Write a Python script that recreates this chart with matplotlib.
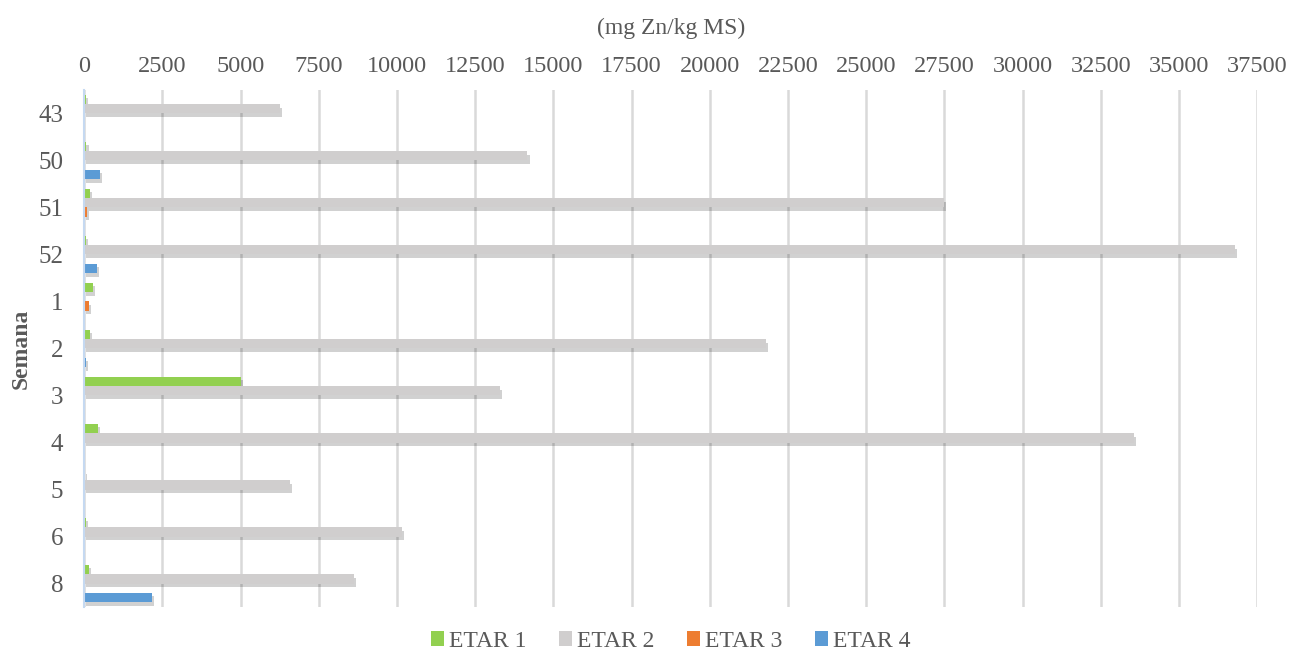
import numpy as np
import matplotlib.pyplot as plt
import matplotlib.patheffects as pe
from matplotlib.patches import Patch

# Zinc content per week (mg Zn/kg MS)
semanas = ['43', '50', '51', '52', '1', '2', '3', '4', '5', '6', '8']
etar1 = [60, 70, 170, 50, 265, 180, 5000, 425, 30, 50, 150]
etar2 = [6250, 14170, 27500, 36800, 0, 21800, 13300, 33570, 6590, 10170, 8630]
etar3 = [0, 0, 100, 0, 150, 0, 0, 0, 0, 0, 0]
etar4 = [0, 490, 0, 395, 0, 50, 0, 0, 0, 0, 2165]

series = [('ETAR 1', etar1, '#92d050'),
          ('ETAR 2', etar2, '#d0cece'),
          ('ETAR 3', etar3, '#ed7d31'),
          ('ETAR 4', etar4, '#5b9bd5')]

plt.rcParams['font.family'] = ['Liberation Serif', 'DejaVu Serif']
txt = '#595959'

fig = plt.figure(figsize=(12.96, 6.52), dpi=100)
ax = fig.add_axes([0.065, 0.069, 0.905, 0.793])

y = np.arange(len(semanas))
h = 0.2
shadow = [pe.SimplePatchShadow(offset=(1.5, -2.5), shadow_rgbFace='#000000', alpha=0.18),
          pe.Normal()]
for k, (name, vals, col) in enumerate(series):
    bars = ax.barh(y + (k - 1.5) * h, vals, height=h, color=col, linewidth=0, zorder=3)
    for b, v in zip(bars, vals):
        if v > 0:
            b.set_path_effects(shadow)
        else:
            b.set_visible(False)

ax.set_ylim(len(semanas) - 0.5, -0.5)
ax.set_xlim(0, 37500)
ax.set_xticks(np.arange(0, 37501, 2500))
ax.xaxis.tick_top()
ax.xaxis.set_label_position('top')
ax.tick_params(axis='x', length=0, pad=9, labelsize=17.5, labelcolor=txt)
ax.tick_params(axis='y', length=0, pad=15, labelsize=18, labelcolor=txt)
ax.set_yticks(y)
ax.set_yticklabels(semanas)
ax.grid(axis='x', color='#d9d9d9', linewidth=1.8, zorder=0)
ax.set_axisbelow(True)

for s in ['top', 'right', 'bottom']:
    ax.spines[s].set_visible(False)
ax.spines['left'].set_color('#c5d9f1')
ax.spines['left'].set_linewidth(1.5)
ax.spines['left'].set_zorder(5)

ax.set_xlabel('(mg Zn/kg MS)', fontsize=17, color=txt, labelpad=16)
ax.set_ylabel('Semana', fontsize=17, fontweight='bold', color=txt, labelpad=5)

handles = [Patch(facecolor=col, label=name) for name, _, col in series]
ax.legend(handles=handles, loc='upper center', bbox_to_anchor=(0.5, -0.005), ncol=4,
          frameon=False, fontsize=17, labelcolor=txt, handlelength=0.55, handleheight=0.55,
          handletextpad=0.2, columnspacing=1.4)

fig.savefig('out.png', dpi=100)
